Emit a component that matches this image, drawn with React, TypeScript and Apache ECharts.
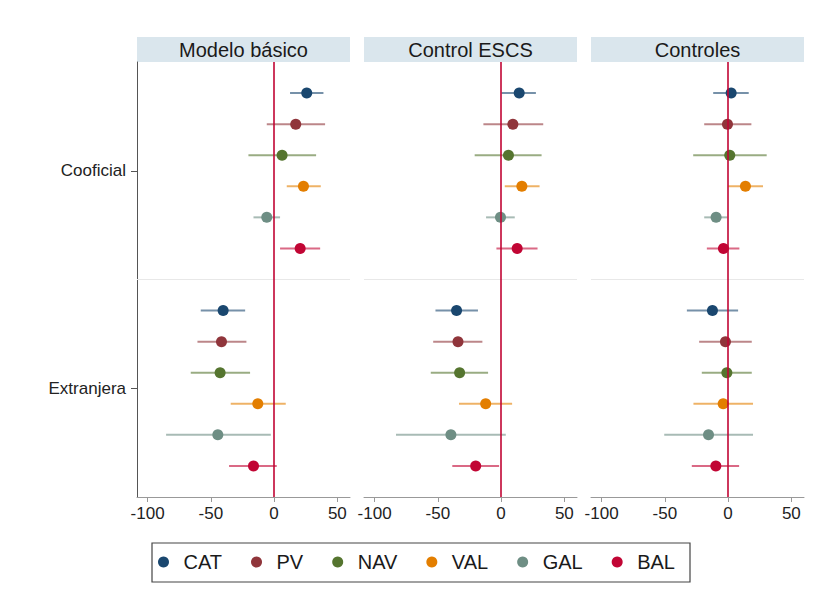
import React, { useEffect, useRef } from "react";
import * as echarts from "echarts";

const regions = ["CAT", "PV", "NAV", "VAL", "GAL", "BAL"];
const regionColors = ["#1a476f", "#90353b", "#55752f", "#e37e00", "#6e8e84", "#c10534"];
const groups = ["Cooficial", "Extranjera"];
const panelTitles = ["Modelo básico", "Control ESCS", "Controles"];
const xTicks = [-100, -50, 0, 50];

// Modelo básico
const basicoCoofEst = [25.8, 17.1, 6.3, 23.2, -5.8, 20.6];
const basicoCoofLo = [12.6, -5.8, -20.3, 10.0, -16.3, 4.7];
const basicoCoofHi = [39.0, 40.3, 33.2, 36.9, 4.7, 36.4];
const basicoExtEst = [-40.3, -41.6, -42.7, -12.9, -44.5, -16.3];
const basicoExtLo = [-58.0, -60.6, -65.9, -34.3, -85.4, -35.6];
const basicoExtHi = [-22.9, -21.9, -19.0, 9.2, -2.6, 2.1];

// Control ESCS
const escsCoofEst = [14.3, 9.3, 5.8, 16.4, -0.5, 12.7];
const escsCoofLo = [0.3, -14.0, -20.9, 2.9, -11.9, -3.7];
const escsCoofHi = [27.5, 33.3, 32.0, 30.4, 10.8, 28.8];
const escsExtEst = [-35.2, -34.1, -32.8, -12.2, -39.7, -20.1];
const escsExtLo = [-51.9, -53.7, -55.6, -33.3, -83.1, -38.6];
const escsExtHi = [-18.3, -14.8, -10.3, 8.7, 3.7, -1.6];

// Controles
const ctrlCoofEst = [2.4, -0.5, 1.3, 13.7, -9.5, -3.7];
const ctrlCoofLo = [-11.8, -18.9, -27.6, 0.0, -18.9, -16.8];
const ctrlCoofHi = [16.3, 18.4, 30.5, 27.6, -0.5, 8.9];
const ctrlExtEst = [-12.4, -2.1, -1.0, -3.9, -15.5, -9.7];
const ctrlExtLo = [-32.6, -22.9, -20.8, -27.4, -50.5, -28.7];
const ctrlExtHi = [7.9, 18.7, 18.7, 19.7, 19.7, 8.7];

const panelData = [
  { est: [basicoCoofEst, basicoExtEst], lo: [basicoCoofLo, basicoExtLo], hi: [basicoCoofHi, basicoExtHi] },
  { est: [escsCoofEst, escsExtEst], lo: [escsCoofLo, escsExtLo], hi: [escsCoofHi, escsExtHi] },
  { est: [ctrlCoofEst, ctrlExtEst], lo: [ctrlCoofLo, ctrlExtLo], hi: [ctrlCoofHi, ctrlExtHi] },
];

const FONT = "'Liberation Sans', Arial, sans-serif";
const groupOffset = [0, 7];
const gridLefts = [137, 364, 591];
const gridWidth = 213;
const gridTop = 62;
const gridHeight = 435;

export default function App() {
  const ref = useRef<HTMLDivElement>(null);
  useEffect(() => {
    if (!ref.current) return;
    const chart = echarts.init(ref.current, null, { renderer: "svg" });

    const grid = gridLefts.map((l) => ({ left: l, top: gridTop, width: gridWidth, height: gridHeight }));
    const xAxis = gridLefts.map((_, p) => ({
      type: "value",
      gridIndex: p,
      position: "bottom",
      min: -108.4,
      max: 60,
      splitLine: { show: false },
      axisLine: { show: true, onZero: false, lineStyle: { color: "#999", width: 1 } },
      axisTick: { show: true, customValues: xTicks, length: 5, lineStyle: { color: "#999" } },
      axisLabel: { customValues: xTicks, fontSize: 17, color: "#222", margin: 8, fontFamily: FONT },
    }));
    const yAxis = gridLefts.map((_, p) => ({
      type: "value",
      gridIndex: p,
      position: "left",
      inverse: true,
      min: -1,
      max: 13,
      splitLine: { show: false },
      show: p === 0,
      axisLine: { show: p === 0, onZero: false, lineStyle: { color: "#555", width: 1 } },
      axisTick: { show: p === 0, customValues: [2.5, 9.5], length: 6, lineStyle: { color: "#555" } },
      axisLabel: {
        show: p === 0,
        customValues: [2.5, 9.5],
        formatter: (v: number) => (v < 6 ? groups[0] : groups[1]),
        fontSize: 17,
        color: "#222",
        margin: 11,
        fontFamily: FONT,
      },
    }));

    const series: any[] = [];
    panelData.forEach((pd, p) => {
      regions.forEach((r, i) => {
        series.push({
          type: "scatter",
          name: r,
          xAxisIndex: p,
          yAxisIndex: p,
          symbol: "circle",
          symbolSize: 11,
          z: 4,
          itemStyle: { color: regionColors[i], opacity: 1 },
          data: [0, 1].map((g) => [pd.est[g][i], groupOffset[g] + i]),
        });
      });
    });
    panelData.forEach((pd, p) => {
      regions.forEach((r, i) => {
        const s: any = {
          type: "custom",
          name: r,
          xAxisIndex: p,
          yAxisIndex: p,
          z: 3,
          itemStyle: { color: regionColors[i] },
          encode: { x: [0, 1], y: 2 },
          data: [0, 1].map((g) => [pd.lo[g][i], pd.hi[g][i], groupOffset[g] + i]),
          renderItem: (params: any, api: any) => {
            const y = api.value(2);
            const a = api.coord([api.value(0), y]);
            const b = api.coord([api.value(1), y]);
            return {
              type: "line",
              shape: { x1: a[0], y1: a[1], x2: b[0], y2: b[1] },
              style: { stroke: regionColors[i], lineWidth: 2, opacity: 0.6 },
            };
          },
        };
        if (i === 0) {
          s.markLine = {
            silent: true,
            symbol: "none",
            label: { show: false },
            animation: false,
            data: [
              { yAxis: 6, lineStyle: { color: "#e8e8e8", width: 1, type: "solid" } },
              { xAxis: 0, lineStyle: { color: "#c10534", width: 1.6, type: "solid" } },
            ],
          };
        }
        series.push(s);
      });
    });

    const graphic: any[] = [];
    gridLefts.forEach((l, p) => {
      graphic.push({
        type: "rect",
        shape: { x: l, y: 37, width: gridWidth, height: 25 },
        style: { fill: "#dae6ed" },
        silent: true,
      });
      graphic.push({
        type: "text",
        x: l + gridWidth / 2,
        y: 49.5,
        style: {
          text: panelTitles[p],
          fontSize: 20,
          fontFamily: FONT,
          fill: "#1a1a1a",
          align: "center",
          verticalAlign: "middle",
        },
        silent: true,
      });
    });
    graphic.push({
      type: "rect",
      shape: { x: 152, y: 543, width: 538, height: 39 },
      style: { fill: "none", stroke: "#444", lineWidth: 1.2 },
      silent: true,
      z: -1,
    });

    chart.setOption({
      animation: false,
      backgroundColor: "#ffffff",
      textStyle: { fontFamily: FONT },
      grid,
      xAxis,
      yAxis,
      series,
      graphic,
      legend: {
        data: regions.map((r) => ({ name: r, icon: "circle" })),
        left: 158,
        top: 551,
        padding: 0,
        itemWidth: 30,
        itemHeight: 11,
        itemGap: 29,
        selectedMode: false,
        textStyle: { fontSize: 20, color: "#1a1a1a", fontFamily: FONT, lineHeight: 22 },
      },
    });
    return () => chart.dispose();
  }, []);
  return (
    <div
      ref={ref}
      style={{ position: "fixed", left: 0, top: 0, width: 819, height: 600, background: "#fff" }}
    />
  );
}
